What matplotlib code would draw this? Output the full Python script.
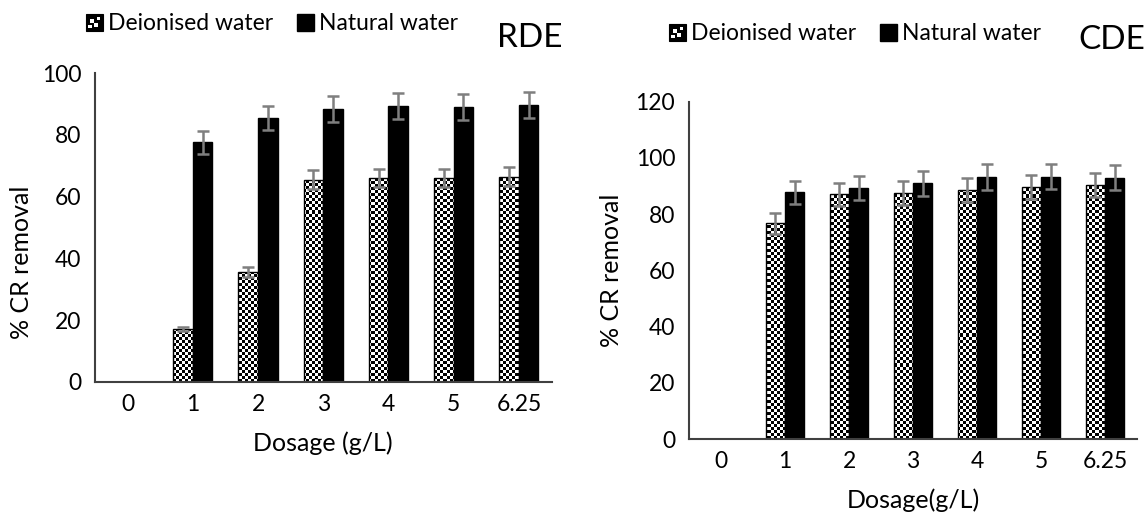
import numpy as np
import matplotlib
matplotlib.use("Agg")
import matplotlib.pyplot as plt
from matplotlib.patches import Rectangle
from matplotlib.legend_handler import HandlerBase

plt.rcParams['font.family'] = ['Lato', 'DejaVu Sans']

# ---------------- data ----------------
categories = ['0', '1', '2', '3', '4', '5', '6.25']

rde_deionised = [0, 17.0, 35.6, 65.5, 66.0, 66.0, 66.5]
rde_deionised_err = [np.nan, 0.7, 1.5, 3.0, 3.0, 3.0, 3.0]
rde_natural = [0, 77.6, 85.5, 88.5, 89.4, 89.0, 89.7]
rde_natural_err = [np.nan, 3.7, 4.0, 4.3, 4.3, 4.2, 4.2]

cde_deionised = [0, 76.8, 87.0, 87.6, 88.5, 89.8, 90.3]
cde_deionised_err = [np.nan, 3.7, 4.1, 4.2, 4.3, 4.3, 4.2]
cde_natural = [0, 87.7, 89.3, 90.9, 93.2, 93.3, 93.0]
cde_natural_err = [np.nan, 4.2, 4.2, 4.5, 4.5, 4.5, 4.5]

W, H = 1148, 518
fig = plt.figure(figsize=(W / 100, H / 100), dpi=100)

ERR_COLOR = '#7f7f7f'
SPINE_COLOR = '#404040'
TICK_FS = 16.5
LABEL_FS = 18
LEGEND_FS = 16.5
TITLE_FS = 24


def checker(nx, ny):
    yy, xx = np.mgrid[0:ny, 0:nx]
    return ((xx + yy) % 2).astype(float)


def draw_panel(ax, dei, dei_err, nat, nat_err, ymax, yticks, cell_px=3):
    x = np.arange(len(categories))
    w = 0.3
    ax.set_xlim(-0.5, len(categories) - 0.5)
    ax.set_ylim(0, ymax)
    bbox = ax.get_position()
    nx = int(round(bbox.width * W / cell_px))
    ny = int(round(bbox.height * H / cell_px))
    tex = checker(nx, ny)

    dbars = ax.bar(x - w / 2, dei, w, facecolor='none', edgecolor='black',
                   linewidth=1.0, zorder=3)
    for b, v in zip(dbars, dei):
        if v <= 0:
            continue
        im = ax.imshow(tex, cmap='gray', vmin=0, vmax=1, interpolation='nearest',
                       extent=(-0.5, len(categories) - 0.5, 0, ymax),
                       aspect='auto', zorder=2, origin='lower')
        im.set_clip_path(b)
    ax.bar(x + w / 2, nat, w, color='black', edgecolor='black', linewidth=1.0,
           zorder=3)
    ax.errorbar(x - w / 2, dei, yerr=dei_err, fmt='none', ecolor=ERR_COLOR,
                elinewidth=1.8, capsize=4.3, capthick=1.8, zorder=4)
    ax.errorbar(x + w / 2, nat, yerr=nat_err, fmt='none', ecolor=ERR_COLOR,
                elinewidth=1.8, capsize=4.3, capthick=1.8, zorder=4)

    ax.set_xlim(-0.5, len(categories) - 0.5)
    ax.set_ylim(0, ymax)
    ax.set_xticks(x)
    ax.set_xticklabels(categories)
    ax.set_yticks(yticks)
    for s in ['top', 'right']:
        ax.spines[s].set_visible(False)
    for s in ['left', 'bottom']:
        ax.spines[s].set_color(SPINE_COLOR)
        ax.spines[s].set_linewidth(1.5)
    ax.spines['bottom'].set_zorder(5)
    ax.tick_params(axis='both', length=0, labelsize=TICK_FS, colors='black')
    ax.tick_params(axis='y', pad=10)
    ax.tick_params(axis='x', pad=9)


class CheckerHandler(HandlerBase):
    def create_artists(self, legend, orig_handle, xdescent, ydescent, width,
                       height, fontsize, trans):
        s = min(width, height)
        x0 = -xdescent + (width - s) / 2
        y0 = -ydescent + (height - s) / 2
        arts = [Rectangle((x0, y0), s, s, facecolor='black', edgecolor='black',
                          lw=0.8, transform=trans)]
        c = s / 4.0
        for (i, j) in [(1, 2), (2, 1)]:
            arts.append(Rectangle((x0 + (i - 0.5) * c + c * 0.5, y0 + (j - 0.5) * c + c * 0.5),
                                  c * 0.9, c * 0.9, facecolor='white', edgecolor='none',
                                  transform=trans))
        for (i, j) in [(0.6, 0.6), (2.6, 2.6)]:
            arts.append(Rectangle((x0 + i * c, y0 + j * c), c * 0.8, c * 0.8,
                                  facecolor='white', edgecolor='none',
                                  transform=trans))
        return arts


def fx(px):
    return px / W


def fy(py):
    return 1 - py / H


# Left panel (RDE)
axL = fig.add_axes([fx(95), fy(381.7), fx(551.5) - fx(95), fy(73.3) - fy(381.7)])
draw_panel(axL, rde_deionised, rde_deionised_err, rde_natural, rde_natural_err,
           100, [0, 20, 40, 60, 80, 100])

# Right panel (CDE)
axR = fig.add_axes([fx(689), fy(439), fx(1137) - fx(689), fy(101.7) - fy(439)])
draw_panel(axR, cde_deionised, cde_deionised_err, cde_natural, cde_natural_err,
           120, [0, 20, 40, 60, 80, 100, 120])

# Legends
h_dei = Rectangle((0, 0), 1, 1)
h_nat = Rectangle((0, 0), 1, 1, facecolor='black', edgecolor='black')
for cx, cy in [(272, 24), (855, 34)]:
    fig.legend([h_dei, h_nat], ['Deionised water', 'Natural water'],
               handler_map={h_dei: CheckerHandler()},
               loc='center', bbox_to_anchor=(fx(cx), fy(cy)), ncol=2,
               frameon=False, fontsize=LEGEND_FS, handlelength=0.75,
               handleheight=0.75, handletextpad=0.25, columnspacing=1.0,
               borderpad=0)

# Panel titles
fig.text(fx(530), fy(38), 'RDE', fontsize=TITLE_FS, ha='center', va='center')
fig.text(fx(1112), fy(40), 'CDE', fontsize=TITLE_FS, ha='center', va='center')

# Axis labels
fig.text(fx(22), fy(262), '% CR removal', fontsize=LABEL_FS, rotation=90,
         ha='center', va='center')
fig.text(fx(612), fy(270), '% CR removal', fontsize=LABEL_FS, rotation=90,
         ha='center', va='center')
fig.text(fx(323), fy(443), 'Dosage (g/L)', fontsize=LABEL_FS, ha='center',
         va='center')
fig.text(fx(913), fy(500), 'Dosage(g/L)', fontsize=LABEL_FS, ha='center',
         va='center')

fig.savefig('out.png', dpi=100)
